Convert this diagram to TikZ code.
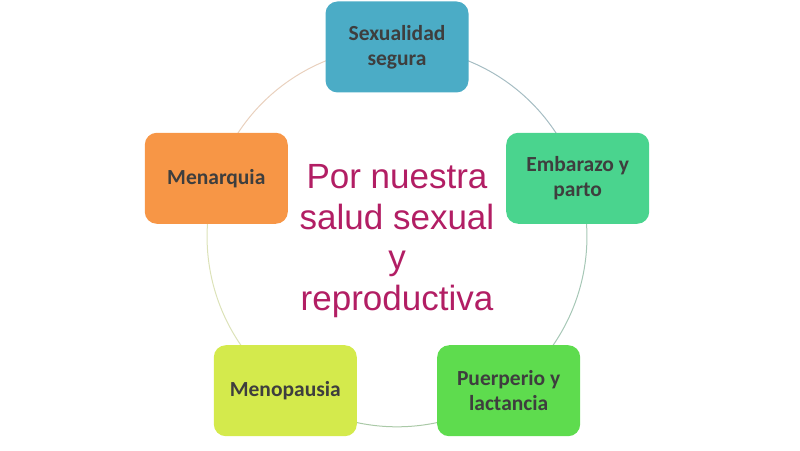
\documentclass[tikz,border=0pt]{standalone}
\usepackage{fontspec}
\setmainfont{Carlito}
\newfontfamily\titlefont{Liberation Sans}
\usetikzlibrary{calc,positioning,backgrounds}
\definecolor{cSex}{RGB}{75,172,198}
\definecolor{cEmb}{RGB}{74,212,142}
\definecolor{cPue}{RGB}{94,220,78}
\definecolor{cMpa}{RGB}{212,234,76}
\definecolor{cMna}{RGB}{247,150,70}
\definecolor{cTxt}{RGB}{62,62,62}
\definecolor{cTitle}{RGB}{178,30,100}
\tikzset{stage/.style={rectangle, rounded corners=12pt, minimum width=143pt, minimum height=91pt, inner sep=4pt, align=center, text=cTxt, font=\fontsize{21.5}{25}\selectfont\bfseries}, ring/.style={line width=1pt}}

\begin{document}
\begin{tikzpicture}[x=1pt,y=1pt]
    \useasboundingbox (0,0) rectangle (800,450);
    \coordinate (c) at (397,213);
    \node[stage,fill=cSex] (sex) at ($(c)+(90:190)$) {Sexualidad\\segura};
    \node[stage,fill=cEmb] (emb) at ($(c)+(18:190)$) {Embarazo y\\parto};
    \node[stage,fill=cPue] (pue) at ($(c)+(-54:190)$) {Puerperio y\\lactancia};
    \node[stage,fill=cMpa] (mpa) at ($(c)+(-126:190)$) {Menopausia};
    \node[stage,fill=cMna] (mna) at ($(c)+(162:190)$) {Menarquia};
    \node[align=center, text=cTitle, font=\titlefont\fontsize{35}{40.5}\selectfont] (title) at (397,209) {Por nuestra\\salud sexual\\y\\reproductiva};
    % ring behind the boxes
    \begin{scope}[on background layer]
        \draw[ring, cSex!40!gray!60] (sex.center) to[bend left=36, looseness=0.94] (emb.center);
        \draw[ring, cEmb!40!gray!60] (emb.center) to[bend left=36, looseness=0.94] (pue.center);
        \draw[ring, cPue!40!gray!60] (pue.center) to[bend left=36, looseness=0.94] (mpa.center);
        \draw[ring, cMpa!60!gray!45] (mpa.center) to[bend left=36, looseness=0.94] (mna.center);
        \draw[ring, cMna!60!gray!40] (mna.center) to[bend left=36, looseness=0.94] (sex.center);
    \end{scope}
\end{tikzpicture}
\end{document}
